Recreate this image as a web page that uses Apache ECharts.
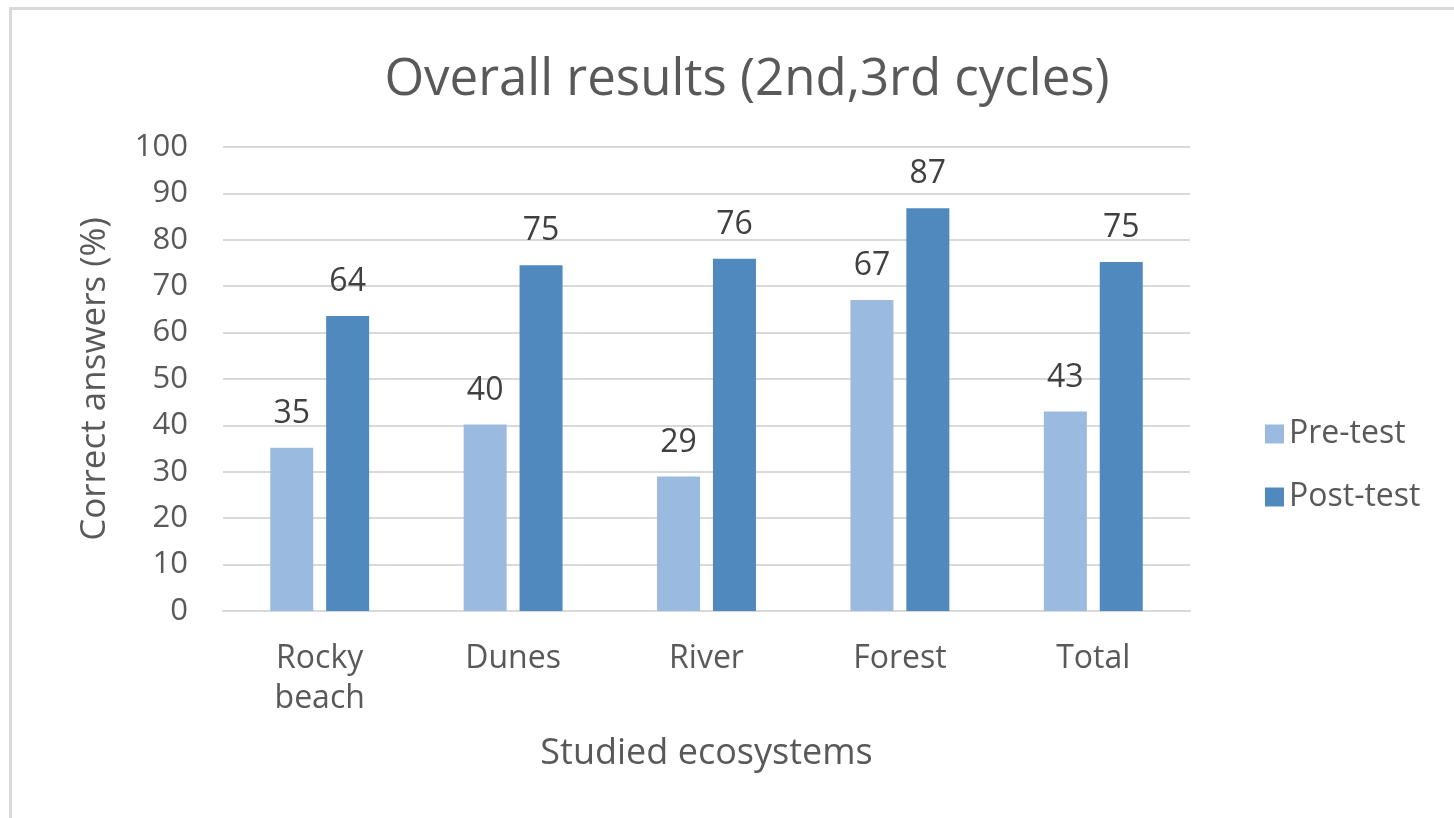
<!DOCTYPE html>
<html>
<head>
<meta charset="utf-8">
<script src="https://cdn.jsdelivr.net/npm/echarts@6/dist/echarts.min.js"></script>
<style>
  html, body { margin: 0; padding: 0; background: #fff; }
  #frame { position: absolute; left: 9px; top: 7px; width: 1500px; height: 900px;
           border-left: 3px solid #d9d9d9; border-top: 3px solid #d9d9d9; }
  #main { position: absolute; left: 0; top: 0; width: 1454px; height: 818px; }
</style>
</head>
<body>
<div id="frame"></div>
<div id="main"></div>
<script>
var categories = ['Rocky\nbeach', 'Dunes', 'River', 'Forest', 'Total'];
var preTest = [35.2, 40.2, 29.0, 67.0, 43.0];
var postTest = [63.6, 74.5, 75.9, 86.8, 75.2];

var chartDom = document.getElementById('main');
var myChart = echarts.init(chartDom);
var option;

var font = '"Open Sans", "Liberation Sans", sans-serif';

option = {
  textStyle: { fontFamily: font },
  title: {
    text: 'Overall results (2nd,3rd cycles)',
    left: 742,
    top: 50,
    textAlign: 'center',
    textStyle: { fontFamily: font, fontSize: 51, fontWeight: 'normal', color: '#595959' }
  },
  legend: {
    data: ['Pre-test', 'Post-test'],
    orient: 'vertical',
    left: 1260,
    top: 409,
    itemWidth: 19,
    itemHeight: 19,
    itemGap: 23,
    icon: 'rect',
    textStyle: { fontFamily: font, fontSize: 32, lineHeight: 40, color: '#595959' }
  },
  grid: {
    left: 223,
    right: 264,
    top: 147,
    bottom: 207
  },
  xAxis: {
    type: 'category',
    data: categories,
    name: 'Studied ecosystems',
    nameLocation: 'middle',
    nameGap: 125,
    nameTextStyle: { fontFamily: font, fontSize: 36, color: '#595959' },
    axisLine: { lineStyle: { color: '#d9d9d9', width: 2 } },
    axisTick: { show: false },
    axisLabel: { fontFamily: font, fontSize: 32, color: '#595959', margin: 28, lineHeight: 40 }
  },
  yAxis: {
    type: 'value',
    min: 0,
    max: 100,
    interval: 10,
    name: 'Correct answers (%)',
    nameLocation: 'middle',
    nameGap: 110,
    nameTextStyle: { fontFamily: font, fontSize: 35, color: '#595959' },
    axisLine: { show: false },
    axisTick: { show: false },
    splitLine: { lineStyle: { color: '#d9d9d9', width: 2 } },
    axisLabel: { fontFamily: font, fontSize: 31, color: '#595959', margin: 35 }
  },
  series: [
    {
      name: 'Pre-test',
      type: 'bar',
      data: preTest,
      barWidth: 43,
      barGap: '30%',
      itemStyle: { color: '#9bbae0' },
      label: {
        show: true, position: 'top', distance: 18,
        fontFamily: font, fontSize: 32, color: '#404040',
        formatter: function (p) { return Math.round(p.value); }
      }
    },
    {
      name: 'Post-test',
      type: 'bar',
      data: postTest,
      barWidth: 43,
      itemStyle: { color: '#4f89bd' },
      label: {
        show: true, position: 'top', distance: 18,
        fontFamily: font, fontSize: 32, color: '#404040',
        formatter: function (p) { return Math.round(p.value); }
      }
    }
  ]
};

option && myChart.setOption(option);
</script>
</body>
</html>
